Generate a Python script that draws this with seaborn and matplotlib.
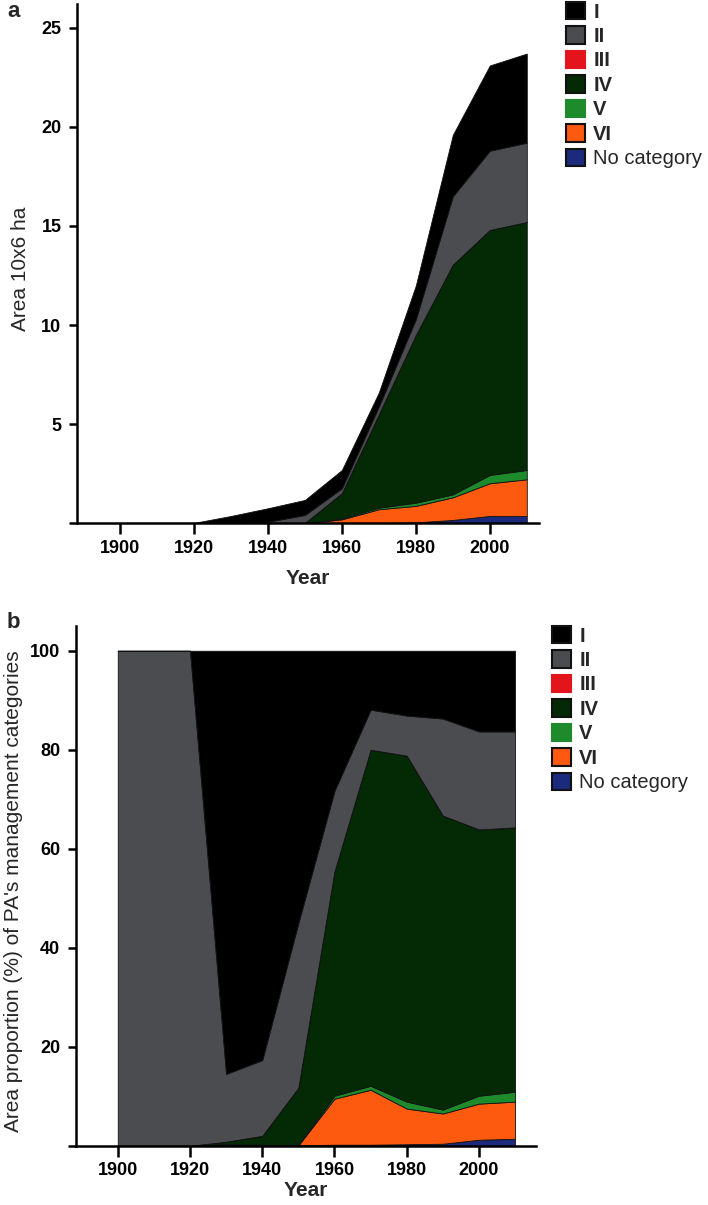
import matplotlib
matplotlib.use("Agg")
import matplotlib.pyplot as plt
import seaborn as sns
import pandas as pd
from matplotlib.patches import Patch

years = [1900, 1910, 1920, 1930, 1940, 1950, 1960, 1970, 1980, 1990, 2000, 2010]
categories = ["I", "II", "III", "IV", "V", "VI", "No category"]
colors = ["#000000", "#4a4c4f", "#e3141c", "#032a05", "#1d8a2b", "#fd5a10", "#1c2a7d"]
edges = ["#111111", "#111111", "#e3141c", "#111111", "#1d8a2b", "#111111", "#111111"]

# area (10^6 ha) per management category
area_I = [0, 0, 0, 0.35, 0.68, 0.76, 0.92, 0.70, 1.70, 3.10, 4.30, 4.50]
area_II = [0.02, 0.02, 0.02, 0.02, 0.08, 0.40, 0.25, 0.40, 0.80, 3.45, 4.00, 4.00]
area_III = [0, 0, 0, 0, 0, 0, 0, 0, 0, 0, 0, 0]
area_IV = [0, 0, 0, 0, 0, 0.02, 1.27, 4.71, 8.46, 11.59, 12.36, 12.51]
area_V = [0, 0, 0, 0, 0, 0, 0.05, 0.08, 0.16, 0.15, 0.42, 0.47]
area_VI = [0, 0, 0, 0, 0, 0, 0.20, 0.70, 0.83, 1.14, 1.65, 1.85]
area_none = [0, 0, 0, 0, 0, 0, 0, 0.01, 0.05, 0.17, 0.37, 0.37]

# area proportion (%) per management category
pct_I = [0, 0, 0, 85.5, 82.7, 55.0, 28.3, 11.9, 13.1, 13.7, 16.3, 16.3]
pct_II = [100, 100, 100, 13.7, 15.3, 33.3, 16.3, 8.1, 8.1, 19.6, 19.8, 19.4]
pct_III = [0, 0, 0, 0, 0, 0, 0, 0, 0, 0, 0, 0]
pct_IV = [0, 0, 0, 0.5, 1.8, 11.6, 45.3, 67.9, 69.9, 59.4, 53.8, 53.4]
pct_V = [0, 0, 0, 0, 0, 0, 0.6, 0.8, 1.4, 0.8, 1.6, 2.0]
pct_VI = [0, 0, 0, 0, 0, 0, 9.3, 11.1, 7.2, 6.1, 7.3, 7.5]
pct_none = [0, 0, 0, 0.3, 0.2, 0.1, 0.2, 0.2, 0.3, 0.4, 1.2, 1.4]

df_area = pd.DataFrame({"I": area_I, "II": area_II, "III": area_III, "IV": area_IV,
                        "V": area_V, "VI": area_VI, "No category": area_none}, index=years)
df_pct = pd.DataFrame({"I": pct_I, "II": pct_II, "III": pct_III, "IV": pct_IV,
                       "V": pct_V, "VI": pct_VI, "No category": pct_none}, index=years)

sns.set_style("ticks")
plt.rcParams["font.family"] = ["Liberation Sans", "DejaVu Sans"]
palette = sns.color_palette(colors)


def plot_panel(ax, df, xlim, ylim, yticks, ylabel, xpad):
    # stack from "No category" at the bottom up to "I" on top
    order = categories[::-1]
    ax.stackplot(df.index, [df[c] for c in order],
                 colors=[palette[categories.index(c)] for c in order],
                 edgecolor="#111111", linewidth=0.6)
    ax.set_xlim(*xlim)
    ax.set_ylim(*ylim)
    ax.set_xticks([1900, 1920, 1940, 1960, 1980, 2000])
    ax.set_yticks(yticks)
    ax.set_yticklabels([""] + [str(t) for t in yticks[1:]])
    sns.despine(ax=ax)
    for s in ["left", "bottom"]:
        ax.spines[s].set_linewidth(1.8)
        ax.spines[s].set_color("black")
    ax.tick_params(axis="x", length=8, width=1.8, pad=4, labelsize=13, colors="black")
    ax.tick_params(axis="y", length=6, width=1.8, pad=5, labelsize=13, colors="black")
    plt.setp(ax.get_xticklabels() + ax.get_yticklabels(), fontweight="bold")
    ax.set_xlabel("Year", fontsize=15, fontweight="bold", labelpad=xpad)
    ax.set_ylabel(ylabel, fontsize=15)


def add_legend(fig, x, y):
    handles = [Patch(facecolor=palette[i], edgecolor=edges[i], linewidth=1.5)
               for i in range(len(categories))]
    leg = fig.legend(handles, categories, loc="upper left", bbox_to_anchor=(x, y),
                     bbox_transform=fig.transFigure, frameon=False, fontsize=14.5,
                     handlelength=0.95, handleheight=0.95, labelspacing=0.24,
                     handletextpad=0.4, borderpad=0, borderaxespad=0)
    for t in leg.get_texts():
        if t.get_text() != "No category":
            t.set_fontweight("bold")
    return leg


W, H = 708, 1205
fig = plt.figure(figsize=(W / 100, H / 100), dpi=100)

ax_a = fig.add_axes([76.7 / W, 1 - 523.3 / H, (539 - 76.7) / W, (523.3 - 4) / H])
plot_panel(ax_a, df_area, (1888.3, 2013.3), (0, 26.2), [0, 5, 10, 15, 20, 25],
           "Area 10x6 ha", 9)
ax_a.yaxis.set_label_coords(-0.1, 0.49)

ax_b = fig.add_axes([75.5 / W, 1 - 1145.7 / H, (536 - 75.5) / W, (1145.7 - 626) / H])
plot_panel(ax_b, df_pct, (1888.3, 2015.8), (0, 105), [0, 20, 40, 60, 80, 100],
           "Area proportion (%) of PA's management categories", 1)
ax_b.yaxis.set_label_coords(-0.113, 0.49)

add_legend(fig, 566 / W, 1 - 2 / H)
add_legend(fig, 552 / W, 1 - 626 / H)

fig.text(7 / W, 1 - 1 / H, "a", fontsize=16, fontweight="bold", va="top")
fig.text(7 / W, 1 - 628 / H, "b", fontsize=16, fontweight="bold", va="baseline")

fig.savefig("out.png", dpi=100)
